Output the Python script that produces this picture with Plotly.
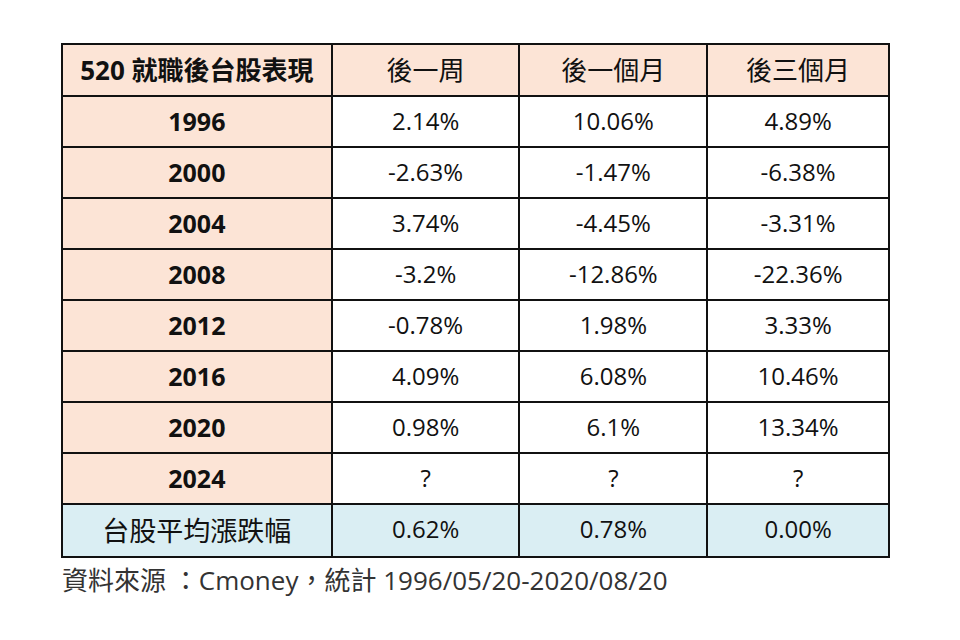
import plotly.graph_objects as go

corner_label = "520 就職後台股表現"
periods = ["後一周", "後一個月", "後三個月"]
years = ["1996", "2000", "2004", "2008", "2012", "2016", "2020", "2024"]
avg_label = "台股平均漲跌幅"
week = ["2.14%", "-2.63%", "3.74%", "-3.2%", "-0.78%", "4.09%", "0.98%", "?"]
month1 = ["10.06%", "-1.47%", "-4.45%", "-12.86%", "1.98%", "6.08%", "6.1%", "?"]
month3 = ["4.89%", "-6.38%", "-3.31%", "-22.36%", "3.33%", "10.46%", "13.34%", "?"]
averages = ["0.62%", "0.78%", "0.00%"]
source_text = "資料來源 ：Cmoney，統計 1996/05/20-2020/08/20"

W, H = 960, 640
OFF = 8  # page body margin
peach = "#FCE4D6"
blue = "#DAEEF3"
white = "#FFFFFF"
line_col = "#111111"
FONT = "Open Sans, Noto Sans CJK TC, sans-serif"


def sp(t):
    return "<span>" + t + "</span>"


first_col = ["<b>" + y + "</b>" for y in years] + [
    "<span style='font-size:27px'>" + avg_label + "</span><br>"]
cols = [first_col] + [[sp(v) for v in c] for c in
                      (week + [averages[0]], month1 + [averages[1]], month3 + [averages[2]])]
fills = [[peach] * len(years) + [blue]] + [[white] * len(years) + [blue] for _ in range(3)]

left, right, top = 62, 890, 44
fig = go.Figure(go.Table(
    domain=dict(x=[(left - OFF) / W, (right - OFF) / W], y=[0, 1 - (top - OFF) / H]),
    columnwidth=[270, 188, 188, 182],
    header=dict(
        values=["<b>" + corner_label + "</b>"] + [sp(p) for p in periods],
        fill_color=peach,
        line=dict(color=line_col, width=2),
        align="center",
        height=52,
        font=dict(family=FONT, size=[26, 26, 26, 26], color="#111111"),
    ),
    cells=dict(
        values=cols,
        fill_color=fills,
        line=dict(color=line_col, width=2),
        align="center",
        height=51,
        font=dict(family=FONT, size=[25, 24, 24, 24], color="#111111"),
    ),
))

fig.add_annotation(
    text=source_text, xref="paper", yref="paper",
    x=(60 - OFF) / W, y=1 - (580 - OFF) / H, xanchor="left", yanchor="middle",
    showarrow=False, font=dict(family=FONT, size=26, color="#333333"),
)

fig.update_layout(
    width=W, height=H, margin=dict(l=0, r=0, t=0, b=0),
    paper_bgcolor="white", plot_bgcolor="white",
)
fig.write_html("out.html")
